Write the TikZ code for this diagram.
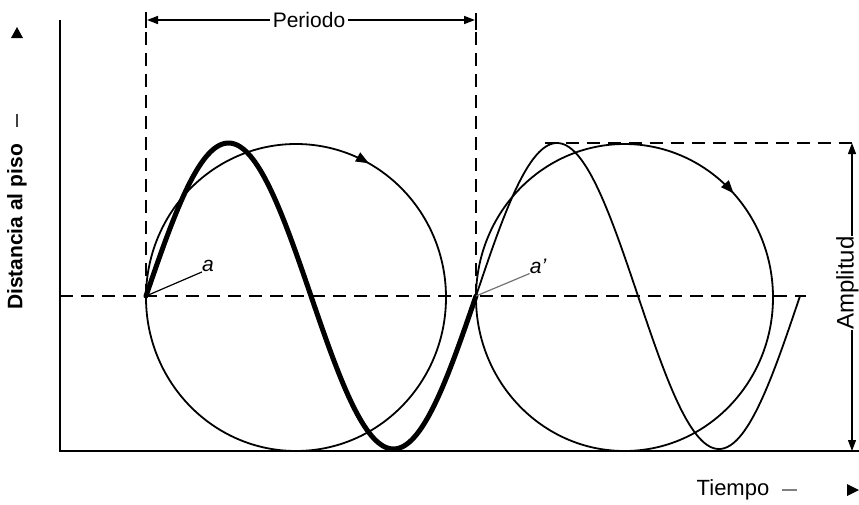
\documentclass[tikz,border=0pt]{standalone}
\usepackage{fontspec}
\setmainfont{Liberation Sans}
\usetikzlibrary{arrows.meta,decorations.markings}
\begin{document}
\begin{tikzpicture}[x=1pt,y=-1pt,
  >={Triangle[length=11pt,width=8pt]},
  thinline/.style={line width=1.8pt},
  axisline/.style={line width=2.4pt},
  dashline/.style={line width=2pt, dash pattern=on 13pt off 8pt},
  thickwave/.style={line width=5pt, line cap=round},
  lbl/.style={inner sep=1pt, font=\fontsize{21}{24}\selectfont},
  albl/.style={inner sep=0pt, font=\fontsize{21}{24}\selectfont\itshape},
  leader/.style={line width=1.2pt},
  circarrow/.style={postaction={decorate}, decoration={markings, mark=at position #1 with {\arrow{Triangle[length=13pt,width=10pt]}}}},
]
\useasboundingbox (0,0) rectangle (859,504);

% axes
\coordinate (O) at (60,451);
\coordinate (Ytop) at (60,20);
\coordinate (Xend) at (859,451);
\draw[axisline] (Ytop) -- (O) -- (Xend);

% key points
\coordinate (a) at (146,296);
\coordinate (ap) at (476,296);

% midline
\coordinate (ML) at (60,296);
\coordinate (MR) at (806,296);
\draw[dashline] (ML) -- (MR);

% period verticals
\coordinate (P1t) at (146,32);
\coordinate (P2t) at (476,32);
\draw[dashline] (P1t) -- (a);
\draw[dashline] (P2t) -- (ap);

% period arrow
\coordinate (B1t) at (146,12); \coordinate (B1b) at (146,28);
\coordinate (B2t) at (476,13); \coordinate (B2b) at (476,30);
\draw[line width=2pt] (B1t) -- (B1b);
\draw[line width=2pt] (B2t) -- (B2b);
\coordinate (PL) at (147,20);
\coordinate (PR) at (475,20);
\draw[line width=1.6pt, <->] (PL) -- (PR);
\node[lbl, fill=white, inner xsep=3pt] (periodo) at (309,20) {Periodo};

% circles
\draw[thinline, circarrow=0.83] (296,297.5) ellipse [x radius=150, y radius=153.5];
\draw[thinline, circarrow=0.88] (624.5,297.5) ellipse [x radius=148.5, y radius=153.5];

% waves
\draw[thinline] plot[variable=\t, domain=0:324, samples=140, smooth] ({476+\t},{296-153*sin(\t*1.11111)});
\draw[thickwave] plot[variable=\t, domain=0:330, samples=140, smooth] ({146+\t},{296-153*sin(\t*1.090909)});

% labels a, a'
\node[albl] (la) at (208,266) {a};
\draw[leader] (a) -- (la.south west);
\node[albl] (lap) at (538,266) {a'};
\draw[leader, black!55] (ap) -- (lap.south west);

% amplitude
\coordinate (AT) at (852,143);
\coordinate (AB) at (852,451);
\coordinate (AL) at (545,143);
\draw[dashline] (AL) -- (AT);
\draw[line width=1.2pt, <->] (AT) -- (AB);
\node[rotate=90, anchor=north, fill=white, inner sep=0pt, font=\fontsize{24}{28}\selectfont] (ampl) at (836,283) {Amplitud};

% y label
\node[rotate=90, font=\bfseries\fontsize{21}{24}\selectfont, inner sep=0pt] (dist) at (17,227) {Distancia al piso};
\coordinate (YD1) at (17,114); \coordinate (YD2) at (17,127);
\draw[line width=1.6pt, black!75] (YD1) -- (YD2);
\fill (17,27) -- (11,38) -- (23,38) -- cycle;

% x label
\node[inner sep=1pt, font=\fontsize{22}{26}\selectfont] (tiempo) at (733,490) {Tiempo};
\coordinate (XD1) at (782,490); \coordinate (XD2) at (797,490);
\draw[line width=1.2pt, black!50] (XD1) -- (XD2);
\fill (859,490) -- (847,484) -- (847,496) -- cycle;
\end{tikzpicture}
\end{document}
